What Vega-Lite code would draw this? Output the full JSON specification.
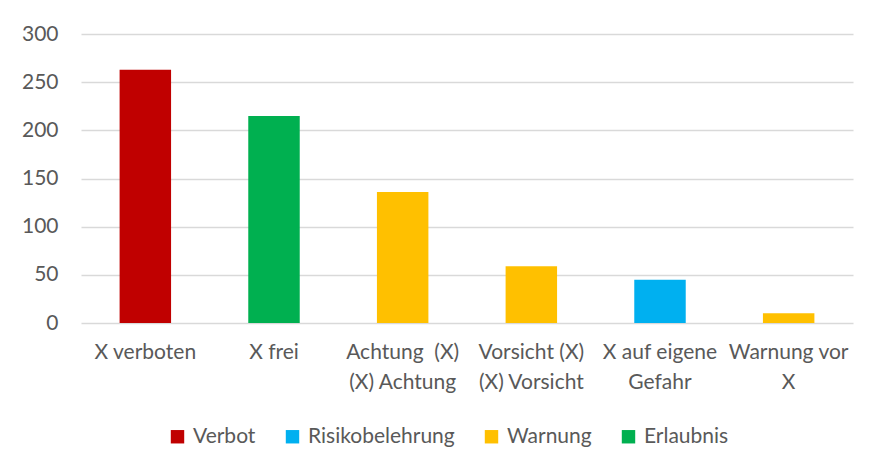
{
  "$schema": "https://vega.github.io/schema/vega-lite/v6.json",
  "width": 772,
  "height": 289,
  "autosize": {"type": "none"},
  "padding": {"left": 81, "top": 34, "right": 28, "bottom": 149},
  "background": "white",
  "config": {
    "view": {"stroke": null},
    "font": "Lato",
    "axis": {"labelFont": "Lato", "labelColor": "#595959", "labelFontSize": 21},
    "legend": {"labelFont": "Lato", "labelColor": "#595959", "labelFontSize": 21}
  },
  "data": {
    "values": [
      {"kategorie": "X verboten", "anzahl": 263, "typ": "Verbot"},
      {"kategorie": "X frei", "anzahl": 215, "typ": "Erlaubnis"},
      {"kategorie": "Achtung\u00a0 (X)|(X) Achtung", "anzahl": 136, "typ": "Warnung"},
      {"kategorie": "Vorsicht (X)|(X) Vorsicht", "anzahl": 59, "typ": "Warnung"},
      {"kategorie": "X auf eigene|Gefahr", "anzahl": 45, "typ": "Risikobelehrung"},
      {"kategorie": "Warnung vor|X", "anzahl": 10, "typ": "Warnung"}
    ]
  },
  "mark": {"type": "bar"},
  "encoding": {
    "x": {
      "field": "kategorie",
      "type": "nominal",
      "sort": null,
      "scale": {"paddingInner": 0.6, "paddingOuter": 0.3},
      "axis": {
        "title": null,
        "labelAngle": 0,
        "labelExpr": "split(datum.label, '|')",
        "labelLineHeight": 30,
        "labelPadding": 18,
        "labelBaseline": "top",
        "ticks": false,
        "domain": false,
        "grid": false,
        "labelLimit": 200
      }
    },
    "y": {
      "field": "anzahl",
      "type": "quantitative",
      "scale": {"domain": [0, 300], "nice": false},
      "axis": {
        "title": null,
        "values": [0, 50, 100, 150, 200, 250, 300],
        "ticks": false,
        "domain": false,
        "grid": true,
        "gridColor": "#d9d9d9",
        "gridWidth": 1.3,
        "labelPadding": 23
      }
    },
    "color": {
      "field": "typ",
      "type": "nominal",
      "scale": {
        "domain": ["Verbot", "Risikobelehrung", "Warnung", "Erlaubnis"],
        "range": ["#C00000", "#00B0F0", "#FFC000", "#00B050"]
      },
      "legend": {
        "title": null,
        "orient": "none",
        "direction": "horizontal",
        "legendX": 86,
        "legendY": 392,
        "symbolType": "square",
        "symbolSize": 180,
        "symbolStrokeWidth": 0,
        "symbolOpacity": 1,
        "labelOffset": 5,
        "columnPadding": 26
      }
    }
  }
}
